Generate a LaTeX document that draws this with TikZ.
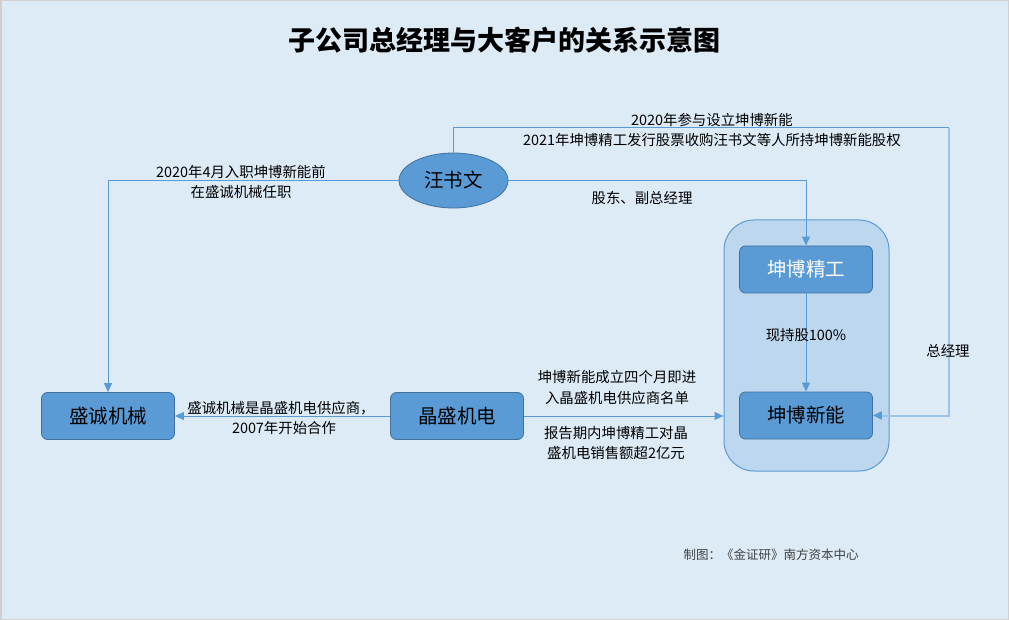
\documentclass[tikz,border=0pt]{standalone}
\usepackage{fontspec}
\setmainfont{Noto Sans CJK SC}
\usetikzlibrary{shapes.geometric,arrows.meta}
\definecolor{bg}{HTML}{DDEBF7}
\definecolor{frame}{HTML}{D0D0D0}
\definecolor{nodefill}{HTML}{5B9BD5}
\definecolor{nodeline}{HTML}{41719C}
\definecolor{grpfill}{HTML}{BDD7EE}
\definecolor{linec}{HTML}{5B9BD5}
\definecolor{lightline}{HTML}{9DC3E6}
\definecolor{foot}{HTML}{404040}
\tikzset{
  boxnode/.style={draw=nodeline, fill=nodefill, rounded corners=6pt, line width=0.8pt,
    minimum width=133pt, minimum height=47pt, inner sep=0pt,
    font=\fontsize{19.5}{22}\selectfont},
  ellnode/.style={ellipse, draw=nodeline, fill=nodefill, line width=0.8pt,
    minimum width=109pt, minimum height=55pt, inner sep=0pt,
    font=\fontsize{19.5}{22}\selectfont},
  grpnode/.style={draw=linec, fill=grpfill, rounded corners=30pt, line width=1pt,
    minimum width=165pt, minimum height=251pt, inner sep=0pt},
  conn/.style={draw=linec, line width=1pt, -{Triangle[length=9pt,width=8pt]}},
  conntop/.style={draw=linec, line width=1pt},
  connlight/.style={draw=lightline, line width=2pt, -{Triangle[length=9pt,width=8pt,color=linec]}},
  lab/.style={inner sep=0pt, font=\fontsize{14.4}{17}\selectfont},
}
\begin{document}
\begin{tikzpicture}[x=1pt,y=-1pt]
\useasboundingbox (0,0) rectangle (1009,620);
\fill[bg] (0,0) rectangle (1009,620);
\draw[frame, line width=1.5pt] (0.75,0.75) rectangle (1008.25,619.25);

\node[font=\fontsize{27}{30}\selectfont\bfseries] (title) at (504,40) {子公司总经理与大客户的关系示意图};

\node[grpnode] (grp) at (806.5,345.5) {};
\node[ellnode] (wang) at (453.5,180.5) {汪书文};
\node[boxnode] (sc) at (108,416) {盛诚机械};
\node[boxnode] (js) at (457,416) {晶盛机电};
\node[boxnode, text=white] (kbjg) at (806,269.5) {坤博精工};
\node[boxnode] (kbxn) at (806,415.5) {坤博新能};
\coordinate (tr) at (949,128);

\draw[conn] (wang.west) -| (sc.north);
\draw[conn] (wang.east) -| (kbjg.north);
\draw[conntop] (wang.north) |- (tr);
\draw[connlight] (tr) |- (kbxn.east);
\draw[conn] (kbjg.south) -- (kbxn.north);
\draw[conn] (js.west) -- (sc.east);
\draw[conn] (js.east) -- (js.east -| grp.west);

\node[lab] (l1a) at (241,172) {2020年4月入职坤博新能前};
\node[lab] (l1b) at (241,192) {在盛诚机械任职};
\node[lab] (l2a) at (712,120) {2020年参与设立坤博新能};
\node[lab] (l2b) at (712,140) {2021年坤博精工发行股票收购汪书文等人所持坤博新能股权};
\node[lab] (l3) at (642,198) {股东、副总经理};
\node[lab] (l4) at (806,335) {现持股100\%};
\node[lab] (l5) at (948,351) {总经理};
\node[lab] (l6a) at (281,408) {盛诚机械是晶盛机电供应商，};
\node[lab] (l6b) at (284,428) {2007年开始合作};
\node[lab] (l7a) at (617,377) {坤博新能成立四个月即进};
\node[lab] (l7b) at (617,398) {入晶盛机电供应商名单};
\node[lab] (l7c) at (616,433) {报告期内坤博精工对晶};
\node[lab] (l7d) at (616,453) {盛机电销售额超2亿元};
\node[lab, text=foot, font=\fontsize{12.5}{15}\selectfont] (footer) at (771,555) {制图：《金证研》南方资本中心};
\end{tikzpicture}
\end{document}
